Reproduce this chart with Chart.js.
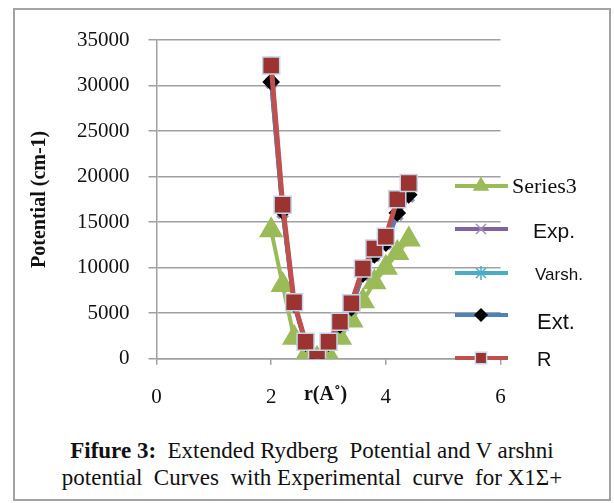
<!DOCTYPE html>
<html>
<head>
<meta charset="utf-8">
<script src="https://cdn.jsdelivr.net/npm/chart.js@4.4.1/dist/chart.umd.min.js"></script>
<style>
  html, body { margin: 0; padding: 0; background: #fff; }
  #frame { position: absolute; left: 13px; top: 8px; width: 594px; height: 489px; border: 2px solid #a3a3a3; }
  #chart { position: absolute; left: 0; top: 0; }
  #caption { position: absolute; left: 13px; width: 598px; top: 437px; text-align: center;
    font-family: "Liberation Serif", serif; font-size: 23px; line-height: 27px; color: #111; }
</style>
</head>
<body>
<div id="frame"></div>
<canvas id="chart" width="614" height="420" style="width:614px;height:420px"></canvas>
<div id="caption"><b>Fifure 3:</b>&nbsp; Extended Rydberg&nbsp; Potential and V arshni<br>potential&nbsp; Curves&nbsp; with Experimental&nbsp; curve&nbsp; for X1&Sigma;+</div>
<script>
// r values (Angstrom)
const rValues = [2.0, 2.2, 2.4, 2.6, 2.8, 3.0, 3.2, 3.4, 3.6, 3.8, 4.0, 4.2, 4.4];

// potential (cm-1)
const series3 = [14100, 8100, 2300, 300, 0, 400, 2300, 4200, 6300, 8400, 10000, 11600, 13100];
const expVals = [30300, 16000, 5900, 1600, 0, 1600, 3600, 5500, 9200, 11300, 12600, 15800, 17800];
const varshVals = [32400, 16900, 6200, 1850, 0, 1850, 4050, 6100, 9900, 12100, 13400, 17500, 19300];
const extVals = [30400, 16200, 6000, 1700, 0, 1700, 3700, 5600, 9300, 11400, 12700, 16000, 18000];
const rydVals = [32200, 16900, 6200, 1850, 0, 1850, 4050, 6100, 9900, 12100, 13400, 17500, 19300];

const xTicks = [0, 2, 4, 6];
const yTicks = [0, 5000, 10000, 15000, 20000, 25000, 30000, 35000];

const pts = arr => arr.map((v, i) => ({ x: rValues[i], y: v }));

const datasets = [
  { label: 'R', data: pts(rydVals), order: 0, borderColor: '#C0504D', borderWidth: 5,
    pointStyle: 'rect', pointRadius: 12, pointBackgroundColor: '#9b3431', pointBorderColor: '#c3d5ea', pointBorderWidth: 1.5 },
  { label: 'Ext.', data: pts(extVals), order: 1, borderColor: '#4F81BD', borderWidth: 4,
    pointStyle: 'rectRot', pointRadius: 6, pointBackgroundColor: '#000', pointBorderColor: '#000' },
  { label: 'Varsh.', data: pts(varshVals), order: 2, borderColor: '#4BACC6', borderWidth: 4,
    pointStyle: 'star', pointRadius: 7, pointBackgroundColor: '#4BACC6', pointBorderColor: '#4BACC6' },
  { label: 'Exp.', data: pts(expVals), order: 3, borderColor: '#8064A2', borderWidth: 4,
    pointStyle: 'crossRot', pointRadius: 7, pointBackgroundColor: '#a28cc0', pointBorderColor: '#a28cc0' },
  { label: 'Series3', data: pts(series3), order: 4, borderColor: '#9BBB59', borderWidth: 4,
    pointStyle: 'triangle', pointRadius: 10, pointBackgroundColor: '#9BBB59', pointBorderColor: '#9BBB59' }
];

// legend drawn on top of the plot, like the original
const legendItems = [
  { ds: 4, text: 'Series3', font: '22px "Liberation Serif"', tx: 512, ty: 187, ly: 186 },
  { ds: 3, text: 'Exp.', font: '21px "Liberation Sans"', tx: 533, ty: 232, ly: 229 },
  { ds: 2, text: 'Varsh.', font: '17px "Liberation Sans"', tx: 535, ty: 275, ly: 273 },
  { ds: 1, text: 'Ext.', font: '22px "Liberation Sans"', tx: 537, ty: 323, ly: 315 },
  { ds: 0, text: 'R', font: '20px "Liberation Sans"', tx: 537, ty: 360, ly: 358 }
];

const overlay = {
  id: 'overlay',
  afterDraw(chart) {
    const ctx = chart.ctx;
    const xs = chart.scales.x;
    ctx.save();
    // x axis title on the tick label line
    ctx.font = 'bold 20px "Liberation Serif"';
    ctx.fillStyle = '#111';
    ctx.textAlign = 'center';
    ctx.textBaseline = 'middle';
    ctx.fillText('r(A\u02DA)', xs.getPixelForValue(2.95), 395);

    legendItems.forEach(it => {
      const d = datasets[it.ds];
      ctx.strokeStyle = d.borderColor;
      ctx.lineWidth = 4;
      ctx.beginPath();
      ctx.moveTo(455, it.ly);
      ctx.lineTo(508, it.ly);
      ctx.stroke();
      ctx.fillStyle = d.pointBackgroundColor;
      ctx.strokeStyle = d.pointBorderColor;
      ctx.lineWidth = d.pointBorderWidth || 1.5;
      Chart.helpers.drawPoint(ctx, { pointStyle: d.pointStyle, radius: Math.min(d.pointRadius, 8), rotation: 0, borderWidth: ctx.lineWidth }, 481, it.ly);
      ctx.fillStyle = '#111';
      ctx.font = it.font;
      ctx.textAlign = 'left';
      ctx.fillText(it.text, it.tx, it.ty);
    });
    ctx.restore();
  }
};

new Chart(document.getElementById('chart'), {
  type: 'scatter',
  data: { datasets: datasets.map(d => Object.assign({ showLine: true, fill: false, tension: 0 }, d)) },
  options: {
    responsive: false,
    animation: false,
    layout: { padding: { left: 0, top: 40, right: 113.5, bottom: 0 } },
    plugins: { legend: { display: false }, tooltip: { enabled: false } },
    scales: {
      x: {
        type: 'linear', min: 0, max: 6,
        afterBuildTicks: s => { s.ticks = xTicks.map(v => ({ value: v })); },
        afterFit: s => { s.height = 61.3; },
        border: { color: '#a0a0a0', width: 1.5 },
        grid: { drawOnChartArea: false, color: '#a0a0a0', lineWidth: 1.5, tickLength: 6 },
        ticks: { color: '#111', padding: 20, maxRotation: 0, callback: v => String(v),
          font: { family: 'Liberation Serif', size: 21 } }
      },
      y: {
        type: 'linear', min: 0, max: 35000,
        afterBuildTicks: s => { s.ticks = yTicks.map(v => ({ value: v })); },
        afterFit: s => { s.width = 156.5; },
        border: { color: '#a0a0a0', width: 1.5 },
        grid: { color: '#a0a0a0', lineWidth: 1.5, tickLength: 8 },
        ticks: { color: '#111', padding: 19, callback: v => String(v),
          font: { family: 'Liberation Serif', size: 21 } },
        title: { display: true, text: 'Potential (cm-1)', color: '#111', padding: { top: 28, bottom: 0 },
          font: { family: 'Liberation Serif', size: 20, weight: 'bold' } }
      }
    }
  },
  plugins: [overlay]
});
</script>
</body>
</html>
